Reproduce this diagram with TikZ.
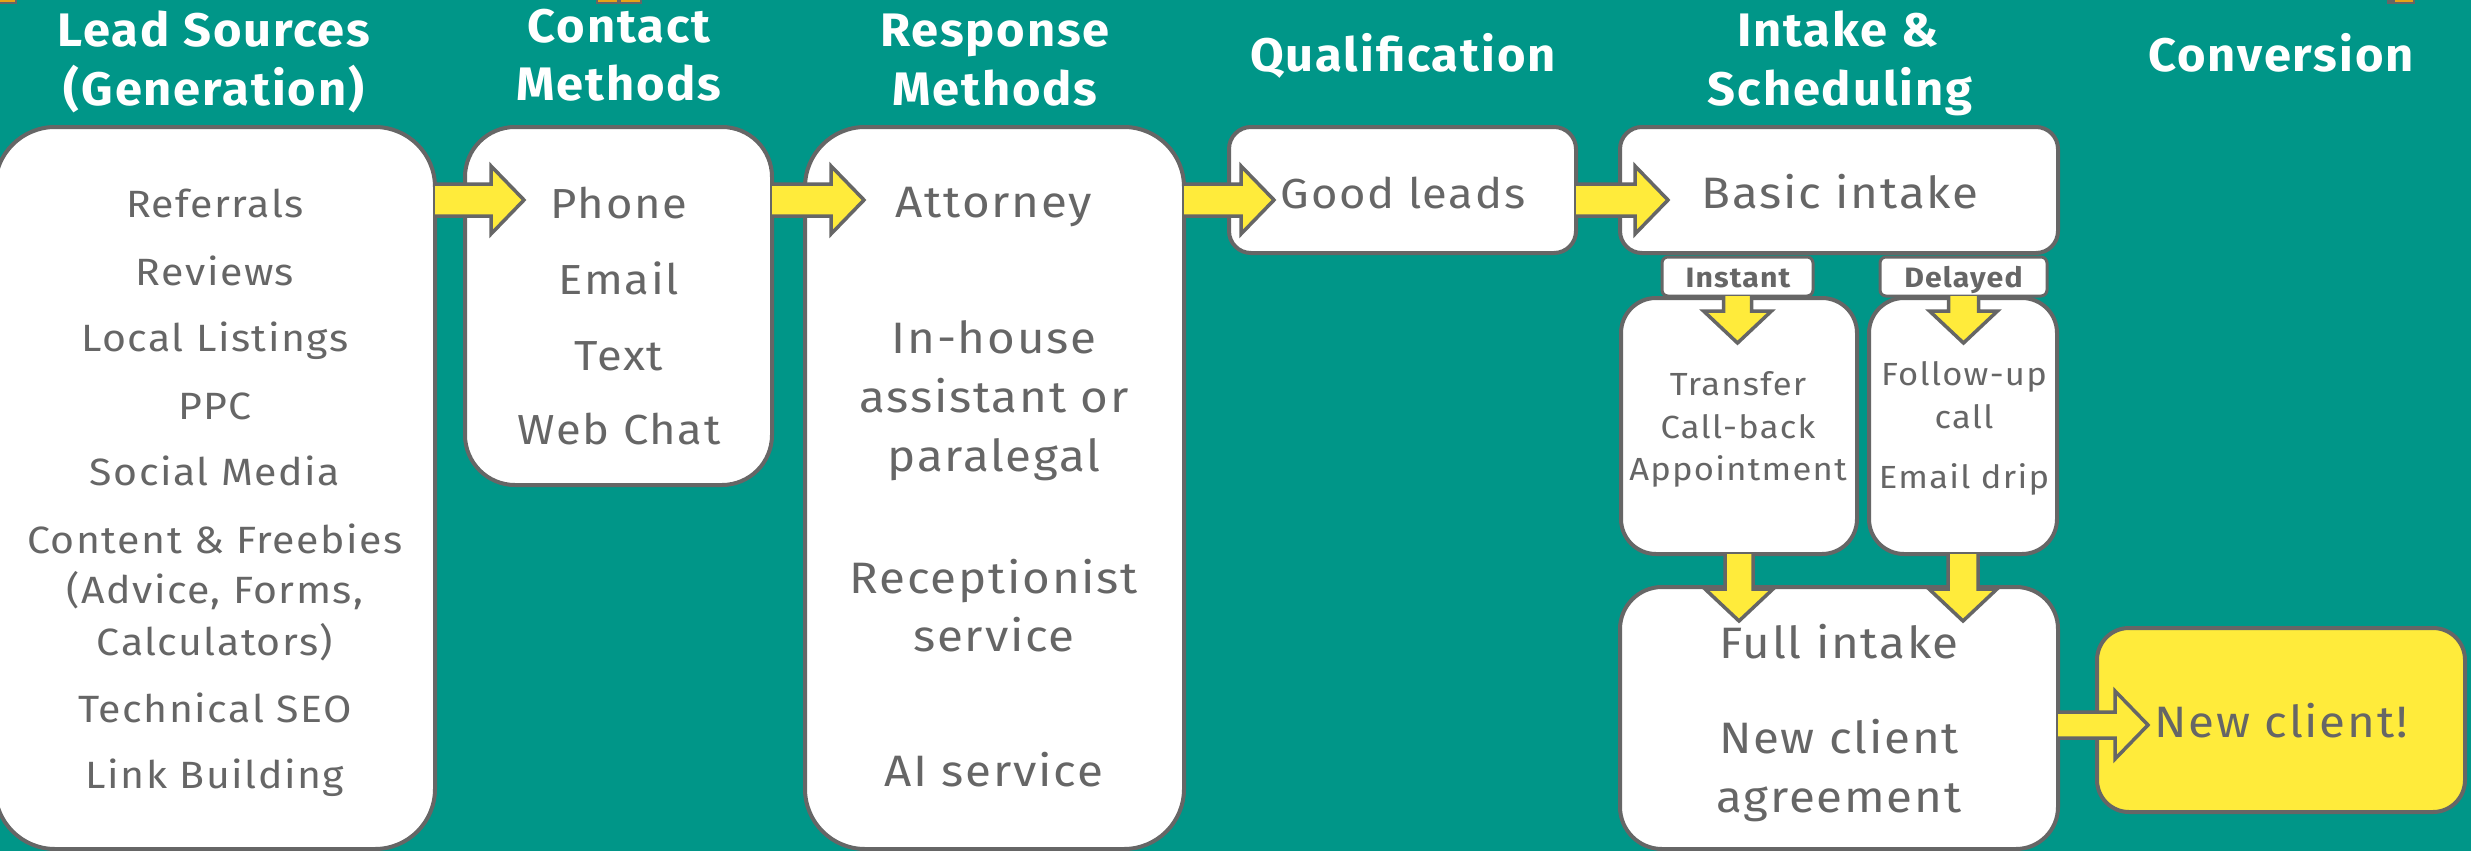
\documentclass[tikz,border=0pt]{standalone}
\usepackage{fontspec}
\setmainfont{Fira Sans}
\newfontfamily\hfont[LetterSpace=4,FakeStretch=1.04]{Fira Sans}
\newfontfamily\bfont[LetterSpace=4,FakeStretch=1.08]{Fira Sans}
\usetikzlibrary{calc}
\definecolor{bgteal}{HTML}{009688}
\definecolor{ylw}{HTML}{FFEB3B}
\definecolor{gr}{HTML}{666666}
\definecolor{orng}{HTML}{E8A317}
\newcommand\fs[1]{\fontsize{#1}{#1}\selectfont}
\newcommand\rarrow[6]{%
  \draw[arr] let \p1=(#1.east), \p2=(#2.west) in
   (\x1,-#3pt+#5pt) -- (\x2+#4pt-33pt,-#3pt+#5pt) -- (\x2+#4pt-33pt,-#3pt+#6pt)
   -- (\x2+#4pt,-#3pt) -- (\x2+#4pt-33pt,-#3pt-#6pt) -- (\x2+#4pt-33pt,-#3pt-#5pt) -- (\x1,-#3pt-#5pt);}
\newcommand\darrow[5]{%
  \draw[arr] let \p1=(#1.south), \p2=(#2.north) in
   (\x1-#4pt,\y1) -- (\x1-#4pt,\y2-#3pt+32pt) -- (\x1-#5pt,\y2-#3pt+32pt)
   -- (\x1,\y2-#3pt) -- (\x1+#5pt,\y2-#3pt+32pt) -- (\x1+#4pt,\y2-#3pt+32pt) -- (\x1+#4pt,\y1);}
\begin{document}
\begin{tikzpicture}[x=1pt,y=-1pt,
  box/.style={draw=gr, line width=4pt, fill=white, inner sep=0pt, outer sep=0pt},
  tag/.style={draw=gr, line width=3pt, fill=white, inner sep=0pt, outer sep=0pt, rounded corners=6pt},
  arr/.style={draw=gr, line width=3.5pt, fill=ylw, line join=miter},
  hdr/.style={text=white, anchor=base, inner sep=0pt, font=\hfont\bfseries\fs{47}},
  txt/.style={text=gr, anchor=base, inner sep=0pt},
  lf/.style={font=\bfont\fs{38}},
  cf/.style={font=\bfont\fs{42}},
  rf/.style={font=\bfont\fs{44}},
  sf/.style={font=\bfont\fs{32}},
  tf/.style={font=\bfont\bfseries\fs{28}}]
\useasboundingbox (0,0) rectangle (2471,851);
\fill[bgteal] (0,0) rectangle (2471,851);
% cropped bits at the top edge
\fill[gr] (0,0) rectangle (17,4); \fill[orng] (0,0) rectangle (15,2);
\fill[gr] (596,0) rectangle (619,4); \fill[orng] (598,0) rectangle (617,2);
\fill[gr] (619,0) rectangle (642,4); \fill[orng] (621,0) rectangle (640,2);
\fill[gr] (2387,0) rectangle (2415,4); \fill[orng] (2395,0) rectangle (2413,2);

% headers
\node[hdr] (h1a) at (214,47) {Lead Sources};
\node[hdr] (h1b) at (214,106) {(Generation)};
\node[hdr] (h2a) at (619,43) {Contact};
\node[hdr] (h2b) at (619,100) {Methods};
\node[hdr] (h3a) at (995,47) {Response};
\node[hdr] (h3b) at (995,106) {Methods};
\node[hdr] (h4) at (1403,72) {Qualification};
\node[hdr] (h5a) at (1838,47) {Intake \&};
\node[hdr] (h5b) at (1840,106) {Scheduling};
\node[hdr] (h6) at (2281,72) {Conversion};

% boxes
\node[box, minimum width=440pt, minimum height=722pt, rounded corners=60pt] (lead) at (215,488) {};
\node[box, minimum width=307pt, minimum height=358pt, rounded corners=50pt] (contact) at (618.5,306) {};
\node[box, minimum width=379pt, minimum height=722pt, rounded corners=60pt] (resp) at (994.5,488) {};
\node[box, minimum width=347pt, minimum height=126pt, rounded corners=22pt] (good) at (1402.5,190) {};
\node[box, minimum width=438pt, minimum height=126pt, rounded corners=22pt] (basic) at (1839,190) {};
\node[tag, minimum width=151pt, minimum height=39pt] (inst) at (1737.5,276.5) {};
\node[tag, minimum width=167pt, minimum height=39pt] (dely) at (1963.5,276.5) {};
\node[box, minimum width=236pt, minimum height=256pt, rounded corners=35pt] (trans) at (1739,426) {};
\node[box, minimum width=188pt, minimum height=256pt, rounded corners=35pt] (follow) at (1963,426) {};
\node[box, minimum width=438pt, minimum height=262pt, rounded corners=42pt] (full) at (1839,718) {};
\node[box, fill=ylw, minimum width=368pt, minimum height=184pt, rounded corners=32pt] (newc) at (2281,720) {};

% arrows
\rarrow{lead}{contact}{200}{59}{16}{34}
\rarrow{contact}{resp}{200}{59}{16}{34}
\rarrow{resp}{good}{200}{45}{16}{34}
\rarrow{good}{basic}{200}{48}{16}{34}
\rarrow{full}{newc}{725}{51}{13}{34}
\darrow{inst}{trans}{45}{14}{34}
\darrow{dely}{follow}{45}{15}{34}
\darrow{trans}{full}{34}{14}{34}
\darrow{follow}{full}{34}{15}{34}

% lead source texts
\node[txt,lf] (l1) at (215,217) {Referrals};
\node[txt,lf] (l2) at (215,285) {Reviews};
\node[txt,lf] (l3) at (215,351) {Local Listings};
\node[txt,lf] (l4) at (215,419) {PPC};
\node[txt,lf] (l5) at (215,485) {Social Media};
\node[txt,lf] (l6) at (215,553) {Content \& Freebies};
\node[txt,lf] (l7) at (215,603) {(Advice, Forms,};
\node[txt,lf] (l8) at (215,655) {Calculators)};
\node[txt,lf] (l9) at (215,722) {Technical SEO};
\node[txt,lf] (l10) at (215,788) {Link Building};
% contact texts
\node[txt,cf] (c1) at (619,218) {Phone};
\node[txt,cf] (c2) at (619,294) {Email};
\node[txt,cf] (c3) at (619,370) {Text};
\node[txt,cf] (c4) at (619,444) {Web Chat};
% response texts
\node[txt,rf] (r1) at (994,217) {Attorney};
\node[txt,rf] (r2) at (994,353) {In-house};
\node[txt,rf] (r3) at (994,412) {assistant or};
\node[txt,rf] (r4) at (994,471) {paralegal};
\node[txt,rf] (r5) at (994,593) {Receptionist};
\node[txt,rf] (r6) at (994,651) {service};
\node[txt,rf] (r7) at (994,786) {AI service};
% qualification / intake
\node[txt,cf] (g1) at (1403,208) {Good leads};
\node[txt,rf] (b1) at (1840,208) {Basic intake};
\node[txt,tf] (t1) at (1738,287) {Instant};
\node[txt,tf] (t2) at (1963.5,287) {Delayed};
\node[txt,sf] (s1) at (1738,395) {Transfer};
\node[txt,sf] (s2) at (1738,438) {Call-back};
\node[txt,sf] (s3) at (1738,480) {Appointment};
\node[txt,sf] (f1) at (1964,385) {Follow-up};
\node[txt,sf] (f2) at (1964,428) {call};
\node[txt,sf] (f3) at (1964,488) {Email drip};
\node[txt,rf] (u1) at (1839,658) {Full intake};
\node[txt,rf] (u2) at (1839,753) {New client};
\node[txt,rf] (u3) at (1839,812) {agreement};
\node[txt,rf] (n1) at (2281,737) {New client!};
\end{tikzpicture}
\end{document}
